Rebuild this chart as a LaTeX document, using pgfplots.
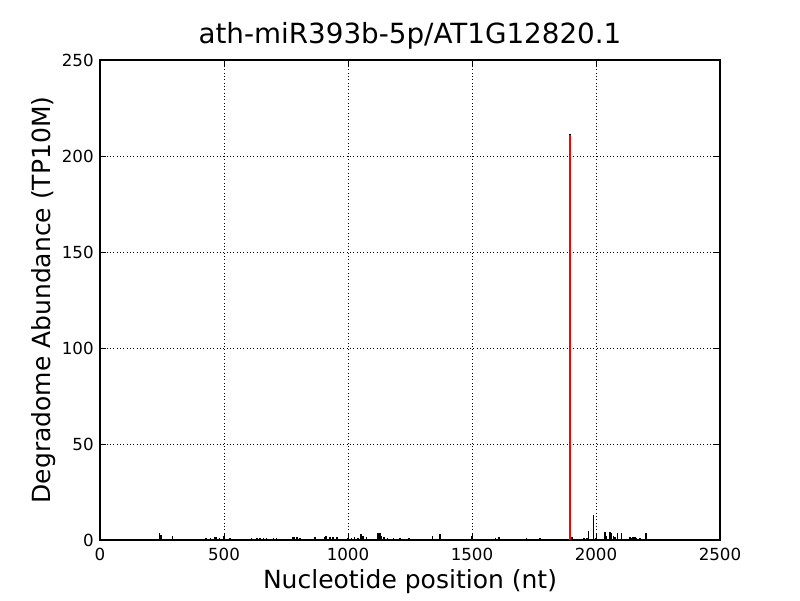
\documentclass[border=0pt]{standalone}
\usepackage{pgfplots}
\pgfplotsset{compat=1.18}
\usepackage{fontspec}
\setmainfont{DejaVu Sans}
\begin{document}
\begin{tikzpicture}
\path[use as bounding box] (0,0) rectangle (576pt,432pt);
\begin{axis}[
  at={(72pt,43.2pt)}, anchor=south west,
  scale only axis, width=446.4pt, height=345.6pt,
  xmin=0, xmax=2500, ymin=0, ymax=250,
  xtick={0,500,...,2500}, ytick={0,50,...,250},
  tick align=inside, tick pos=both,
  major tick length=4pt,
  every tick/.style={black, line width=0.6pt},
  axis line style={black, line width=0.8pt},
  grid=major, grid style={black, dotted, line width=0.5pt},
  /pgf/number format/assume math mode=true,
  /pgf/number format/set thousands separator={},
  tick label style={font=\fontsize{12}{14}\selectfont},
  title={ath-miR393b-5p/AT1G12820.1},
  title style={font=\fontsize{20}{22}\selectfont, at={(0.5,1)}, anchor=base, yshift=5.8pt},
  xlabel={Nucleotide position (nt)},
  xlabel style={font=\fontsize{18}{20}\selectfont, at={(0.5,0)}, anchor=base, yshift=-35pt},
  ylabel={Degradome Abundance (TP10M)},
  ylabel style={font=\fontsize{18}{20}\selectfont, at={(0,0.5)}, anchor=base, rotate=0, yshift=36pt},
  xticklabel style={yshift=-2pt},
  yticklabel style={xshift=-1pt},
]
\addplot[ycomb, black, line width=1.1pt, mark=none] coordinates {
(240,3.5) (245,2.5) (293,2) (380,0.5) (427,1) (446,1) (464,1.5) (470,1.5) (481,1) (501,2) (524,1)
(591,0.5) (611,0.8) (632,1) (645,0.8) (659,1) (672,0.8) (699,1) (712,1) (779,1.5) (785,1.5)
(795,1.5) (806,1) (827,0.5) (867,1.5) (907,1.5) (912,2) (927,1.5) (940,1.5) (955,1.5) (1000,1)
(1015,1) (1027,1.5) (1040,1) (1052,3) (1060,2) (1075,1.5) (1121,3.5) (1128,3.5) (1135,2)
(1145,1.5) (1160,1) (1183,1) (1210,1) (1247,1) (1340,2) (1371,3) (1500,2) (1508,0.5)
(1595,1) (1609,1.5) (1647,0.5) (1673,0.5) (1720,1) (1750,0.5) (1774,1) (1801,0.5) (1821,0.5)
(1895,211.5) (1903,1.5) (1919,0.5) (1952,1) (1963,1) (1969,4.7) (1989,13) (2000,1) (2036,4.3)
(2043,2) (2056,4.3) (2063,3.5) (2070,2) (2077,1.5) (2086,3.5) (2103,3.5) (2137,1.5) (2145,1)
(2150,1.5) (2157,1.5) (2164,1) (2177,1) (2202,3.5)
};
\addplot[ycomb, red, line width=1.6pt, mark=none] coordinates {(1895,211)};
\end{axis}
\end{tikzpicture}
\end{document}
